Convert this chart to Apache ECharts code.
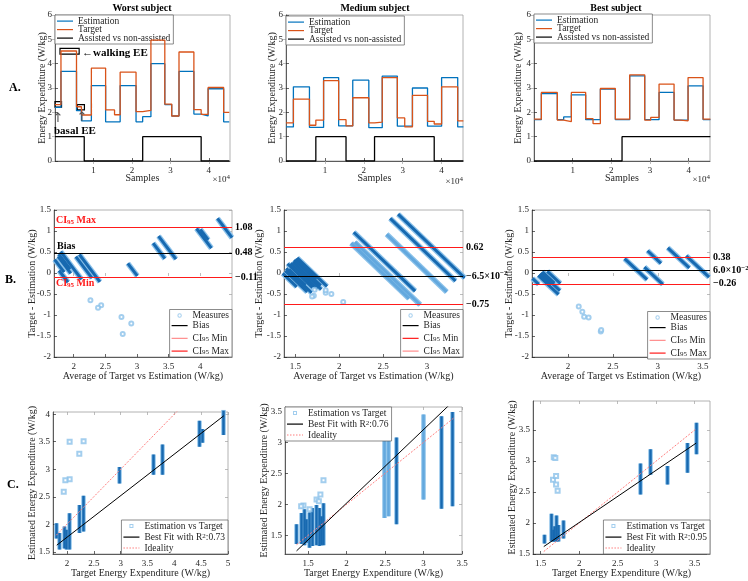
<!DOCTYPE html>
<html>
<head>
<meta charset="utf-8">
<script src="https://cdn.jsdelivr.net/npm/echarts@6/dist/echarts.min.js"></script>
<style>
html, body { margin: 0; background: #fff; }
#main { width: 748px; height: 581px; }
</style>
</head>
<body>
<div id="main"></div>
<script>
// ---------- row A: energy expenditure over samples (step levels per segment) ----------
var worstEdges  = [0, 1550, 5590, 6880, 9460, 13160, 15480, 16940, 21070, 22790, 24940, 28550, 30350, 32240, 36110, 38000, 39810, 43850, 45310];
var worstTarget = [2.32, 4.52, 2.23, 1.89, 3.82, 2.10, 1.90, 3.65, 2.03, 2.08, 4.97, 2.34, 1.85, 4.48, 2.11, 1.92, 3.02, 2.00];
var worstEstim  = [2.20, 3.68, 2.07, 1.65, 3.10, 1.61, 1.61, 3.10, 1.61, 1.82, 4.00, 2.32, 1.85, 3.68, 1.93, 1.85, 2.97, 1.61];
var worstAssistEdges = [0, 7600, 22800, 38000, 45310];
var worstAssist      = [1, 0, 1, 0];

var mediumEdges  = [0, 1900, 6030, 7670, 9660, 13530, 15430, 17160, 21290, 22760, 24740, 28620, 30520, 32500, 36380, 38100, 40000, 44140, 45600];
var mediumTarget = [1.57, 2.54, 1.47, 1.68, 3.30, 1.70, 1.44, 2.60, 1.57, 1.60, 3.43, 1.77, 1.40, 2.70, 1.63, 1.52, 3.05, 1.65];
var mediumEstim  = [1.40, 3.05, 1.38, 1.38, 3.43, 1.44, 1.44, 3.32, 1.37, 1.37, 3.49, 1.43, 1.43, 3.00, 1.43, 1.43, 3.43, 1.40];
var mediumAssistEdges = [0, 7670, 15430, 22760, 38100, 45600];
var mediumAssist      = [0, 1, 0, 1, 0];

var bestEdges  = [0, 1900, 6030, 7670, 9660, 13360, 15260, 17160, 21030, 24740, 28620, 30170, 32330, 36210, 37930, 39830, 43710, 45600];
var bestTarget = [1.72, 2.82, 1.68, 1.62, 2.82, 1.74, 1.54, 2.98, 1.72, 3.54, 1.68, 1.79, 3.16, 1.68, 1.65, 3.43, 1.72];
var bestEstim  = [1.70, 2.77, 1.70, 1.81, 2.72, 1.70, 1.70, 2.95, 1.70, 3.50, 1.70, 1.70, 2.82, 1.68, 1.68, 3.09, 1.70];
var bestAssistEdges = [0, 22760, 45600];
var bestAssist      = [0, 1];

// ---------- rows B/C: per target level, range of estimations [target, estMin, estMax] ----------
var worstBars = [[1.80, 1.74, 2.02], [1.86, 1.54, 1.84], [1.95, 1.56, 1.96], [1.99, 1.54, 1.90], [2.05, 1.54, 2.20],
                 [2.23, 1.84, 2.35], [2.31, 1.87, 2.52], [2.97, 2.74, 3.04], [3.61, 2.90, 3.27], [3.78, 2.90, 3.45],
                 [4.47, 3.41, 3.88], [4.52, 3.48, 3.73], [4.92, 3.62, 4.08]];
var worstSparseBars = [];
var worstOutliers = [[2.05, 3.50], [2.31, 3.51], [2.23, 3.28], [2.05, 2.82], [1.97, 2.80], [1.94, 2.59]];

var mediumBars = [[1.35, 1.36, 1.68], [1.41, 1.36, 1.86], [1.45, 1.34, 1.92], [1.47, 1.38, 1.76], [1.52, 1.30, 1.87],
                  [1.56, 1.33, 1.94], [1.60, 1.34, 1.99], [1.64, 1.33, 1.94], [1.67, 1.34, 1.81], [1.70, 1.34, 2.02],
                  [2.65, 1.68, 3.08], [3.23, 1.93, 3.42], [3.37, 1.97, 3.49]];
var mediumSparseBars = [[2.49, 1.78, 3.10], [2.545, 1.81, 3.30], [3.00, 2.08, 3.45]];
var mediumOutliers = [[1.66, 2.16], [1.70, 2.39], [1.44, 1.98], [1.52, 1.92], [1.61, 2.08], [1.41, 1.97], [1.64, 2.05]];

var bestBars = [[1.54, 1.67, 1.81], [1.64, 1.70, 2.15], [1.66, 1.70, 1.89], [1.68, 1.70, 1.95], [1.70, 1.70, 2.12],
                [1.73, 1.70, 1.97], [1.79, 1.75, 2.04], [2.80, 2.46, 2.96], [2.92, 2.78, 3.19], [3.15, 2.62, 2.92],
                [3.41, 2.81, 3.29], [3.52, 3.11, 3.62]];
var bestSparseBars = [];
var bestOutliers = [[1.67, 3.06], [1.69, 3.05], [1.66, 2.70], [1.70, 2.76], [1.70, 2.62], [1.72, 2.52]];

// Bland-Altman statistics
var biasValues  = [0.48, -0.065, 0.06];
var ciMaxValues = [1.08, 0.62, 0.38];
var ciMinValues = [-0.11, -0.75, -0.26];
var biasLabels  = ['0.48', '\u22126.5\u00d710{sup|\u22122}', '6.0\u00d710{sup|\u22122}'];
var ciMaxLabels = ['1.08', '0.62', '0.38'];
var ciMinLabels = ['\u22120.11', '\u22120.75', '\u22120.26'];

// regression / ideality lines (end points) and R^2
var worstFit  = [[1.81, 1.62], [4.92, 3.97]];
var mediumFit = [[1.35, 1.25], [3.40, 3.68]];
var bestFit   = [[1.54, 1.62], [3.52, 3.29]];
var worstIdeal  = [[1.80, 1.80], [4.92, 4.92]];
var mediumIdeal = [[1.35, 1.35], [3.40, 3.40]];
var bestIdeal   = [[1.54, 1.54], [3.52, 3.52]];
var rSquared = ['0.73', '0.76', '0.95'];

var subjectTitles = ['Worst subject', 'Medium subject', 'Best subject'];

// ---------- layout ----------
var FONT = 'Liberation Serif';
var INK = '#262626';
var BLUE = '#0072BD', ORANGE = '#D95319';
var DARK = '#1769b0', HALO = '#8cc2ea', PALE = '#63a8de', RED = '#ff1a1a', PINK = '#ff8c8c';

// [left, top, width, height] of each axes box: A1..A3, B1..B3, C1..C3
var boxes = [
  [55, 15, 175, 146], [286, 15, 177, 146], [534, 15, 176, 146],
  [54, 210, 178, 147], [284, 210, 179, 147], [532, 210, 178, 147],
  [53, 412, 175, 142], [285, 407, 177, 147], [533, 401, 177, 153]
];
var xRanges = [[0, 45500], [0, 45500], [0, 45500], [1.69, 4.5], [1.37, 3.41], [1.6, 3.58], [1.74, 5], [1.2, 3.5], [1.4, 3.7]];
var yRanges = [[0, 6], [0, 6], [0, 6], [-2, 1.5], [-2, 1.5], [-2, 1.5], [1.46, 4.04], [1.2, 3.57], [1.5, 3.97]];
var sampleTicks = [10000, 20000, 30000, 40000];
var xTicks = [sampleTicks, sampleTicks, sampleTicks,
  [2, 2.5, 3, 3.5, 4], [1.5, 2, 2.5, 3], [2, 2.5, 3, 3.5],
  [2, 2.5, 3, 3.5, 4, 4.5, 5], [1.5, 2, 2.5, 3, 3.5], [1.5, 2, 2.5, 3, 3.5]];
var yTicks = [[0, 1, 2, 3, 4, 5, 6], [0, 1, 2, 3, 4, 5, 6], [0, 1, 2, 3, 4, 5, 6],
  [-2, -1.5, -1, -0.5, 0, 0.5, 1, 1.5], [-2, -1.5, -1, -0.5, 0, 0.5, 1, 1.5], [-2, -1.5, -1, -0.5, 0, 0.5, 1, 1.5],
  [1.5, 2, 2.5, 3, 3.5, 4], [1.5, 2, 2.5, 3, 3.5], [1.5, 2, 2.5, 3, 3.5]];
var xNames = ['Samples', 'Average of Target vs Estimation (W/kg)', 'Target Energy Expenditure (W/kg)'];
var yNames = ['Energy Expenditure (W/kg)', 'Target - Estimation (W/kg)', 'Estimated Energy Expenditure (W/kg)'];
var xNameGaps = [12, 14, 14];
var yNameGaps = [8, 9, 11, 17, 20, 18, 16, 16, 16];

var labelText = { fontFamily: FONT, fontSize: 9, color: INK };
var tickLine = { color: INK, width: 0.7 };

var grids = [], xAxes = [], yAxes = [];
boxes.forEach(function (b, g) {
  grids.push({ left: b[0], top: b[1], width: b[2], height: b[3], show: true,
    borderColor: '#a0a0a0', borderWidth: 0.8, outerBoundsMode: 'none' });
  var row = Math.floor(g / 3);
  xAxes.push({
    gridIndex: g, type: 'value', position: 'bottom', min: xRanges[g][0], max: xRanges[g][1],
    axisLine: { show: true, onZero: false, lineStyle: tickLine },
    axisTick: { show: true, inside: true, length: 3, customValues: xTicks[g], lineStyle: tickLine },
    axisLabel: Object.assign({ customValues: xTicks[g], margin: 5,
      formatter: row === 0 ? function (v) { return String(v / 10000); } : null }, labelText),
    splitLine: { show: false },
    name: xNames[row], nameLocation: 'middle', nameGap: xNameGaps[row], nameMoveOverlap: false,
    nameTextStyle: { fontFamily: FONT, fontSize: 10, color: INK }
  });
  yAxes.push({
    gridIndex: g, type: 'value', position: 'left', min: yRanges[g][0], max: yRanges[g][1],
    axisLine: { show: true, onZero: false, lineStyle: tickLine },
    axisTick: { show: true, inside: true, length: 3, customValues: yTicks[g], lineStyle: tickLine },
    axisLabel: Object.assign({ customValues: yTicks[g], margin: 3 }, labelText),
    splitLine: { show: false },
    name: yNames[row], nameLocation: 'middle', nameGap: yNameGaps[g], nameMoveOverlap: false,
    nameTextStyle: { fontFamily: FONT, fontSize: 10, color: INK }
  });
});
// mirrored ticks on the top / right edges (MATLAB box)
boxes.forEach(function (b, g) {
  xAxes.push({ gridIndex: g, type: 'value', position: 'top', min: xRanges[g][0], max: xRanges[g][1],
    axisLine: { show: false }, axisLabel: { show: false, customValues: xTicks[g] }, splitLine: { show: false },
    axisTick: { show: true, inside: true, length: 3, customValues: xTicks[g], lineStyle: { color: '#a0a0a0', width: 0.7 } } });
  yAxes.push({ gridIndex: g, type: 'value', position: 'right', min: yRanges[g][0], max: yRanges[g][1],
    axisLine: { show: false }, axisLabel: { show: false, customValues: yTicks[g] }, splitLine: { show: false },
    axisTick: { show: true, inside: true, length: 3, customValues: yTicks[g], lineStyle: { color: '#a0a0a0', width: 0.7 } } });
});

function steps(edges, levels) {
  var pts = [];
  for (var i = 0; i < levels.length; i++) {
    pts.push([edges[i], levels[i]], [edges[i + 1], levels[i]]);
  }
  return pts;
}
function vbars(bars) {
  return bars.map(function (b) { return { coords: [[b[0], b[1]], [b[0], b[2]]] }; });
}
// Bland-Altman streak: average vs difference for each estimation at a fixed target
function baStreaks(bars) {
  return bars.map(function (b) {
    return { coords: [[(b[0] + b[1]) / 2, b[0] - b[1]], [(b[0] + b[2]) / 2, b[0] - b[2]]] };
  });
}
function baPoints(pts) {
  return pts.map(function (p) { return [(p[0] + p[1]) / 2, p[0] - p[1]]; });
}

var subjects = [
  { edges: worstEdges, target: worstTarget, estim: worstEstim, aEdges: worstAssistEdges, assist: worstAssist,
    bars: worstBars, sparse: worstSparseBars, outliers: worstOutliers, fit: worstFit, ideal: worstIdeal },
  { edges: mediumEdges, target: mediumTarget, estim: mediumEstim, aEdges: mediumAssistEdges, assist: mediumAssist,
    bars: mediumBars, sparse: mediumSparseBars, outliers: mediumOutliers, fit: mediumFit, ideal: mediumIdeal },
  { edges: bestEdges, target: bestTarget, estim: bestEstim, aEdges: bestAssistEdges, assist: bestAssist,
    bars: bestBars, sparse: bestSparseBars, outliers: bestOutliers, fit: bestFit, ideal: bestIdeal }
];

var displayNames = {};
var series = [];
var legends = [];
var legendText = {
  fontFamily: FONT, fontSize: 9.5, color: INK, lineHeight: 8.5,
  rich: {
    sub: { fontFamily: FONT, fontSize: 7, lineHeight: 8.5, verticalAlign: 'bottom', padding: [5, 0, 0, 0] },
    sup: { fontFamily: FONT, fontSize: 7, lineHeight: 8.5, verticalAlign: 'top' }
  }
};
// legend icons drawn inside a 16x7 box: small hollow markers, plain and dotted line segments
var squareIcon = 'path://M0,0M16,7M6,1.5L10,1.5L10,5.5L6,5.5ZM7,2.5L7,4.5L9,4.5L9,2.5Z';
var circleIcon = 'path://M0,0M16,7M8,1.3A2.2,2.2,0,1,1,7.99,1.3ZM8,2.3A1.2,1.2,0,1,0,8.01,2.3Z';
var lineIcon = 'path://M0,0M16,7M0,3L16,3L16,4.2L0,4.2Z';
var dotIcon = 'path://M0,0M16,7M0,3h1.5v1h-1.5zM3,3h1.5v1h-1.5zM6,3h1.5v1h-1.5zM9,3h1.5v1h-1.5zM12,3h1.5v1h-1.5zM15,3h1v1h-1z';
function legendBox(pos, items, gap) {
  return Object.assign({
    orient: 'vertical', itemWidth: 16, itemHeight: 7, itemGap: gap, padding: [1, 3, 1, 2],
    backgroundColor: '#fff', borderColor: '#5a5a5a', borderWidth: 0.7, borderRadius: 0,
    selectedMode: false, textStyle: legendText,
    formatter: function (n) { return displayNames[n]; }, data: items
  }, pos);
}
function lineItem(name, color) {
  return { name: name, icon: lineIcon, itemStyle: { color: color, borderWidth: 0 } };
}
var markLabel = {
  show: true, position: 'end', distance: 3, color: '#000', fontFamily: FONT, fontSize: 10, fontWeight: 'bold',
  rich: { sup: { fontFamily: FONT, fontSize: 7, fontWeight: 'bold', color: '#000', verticalAlign: 'top', lineHeight: 12 } },
  lineHeight: 12
};
function hline(name, g, value, color, label) {
  return {
    name: name, type: 'line', xAxisIndex: g, yAxisIndex: g, data: [], color: color,
    lineStyle: { color: color, width: 1 }, symbol: 'none', silent: true,
    markLine: { silent: true, symbol: ['none', 'none'], animation: false,
      lineStyle: { color: color, width: 1, type: 'solid' },
      label: Object.assign({ formatter: label }, markLabel),
      data: [{ yAxis: value }] }
  };
}

var legendPos = [
  { left: 55, top: 15 }, { left: 286, top: 16 }, { left: 534, top: 14 },
  { right: 516, bottom: 224 }, { right: 285, bottom: 224 }, { right: 38, bottom: 222 },
  { right: 520, bottom: 27 }, { left: 285, top: 407 }, { right: 38, bottom: 27 }
];
var ciMinLegend = [PINK, RED, PINK];
var ciMaxLegend = [RED, PINK, RED];

subjects.forEach(function (s, p) {
  // --- A: time series
  var g = p;
  var estName = 'est' + g, tgtName = 'tgt' + g, asName = 'as' + g;
  displayNames[estName] = 'Estimation';
  displayNames[tgtName] = 'Target';
  displayNames[asName] = 'Assisted vs non-assisted';
  series.push({ name: estName, type: 'line', xAxisIndex: g, yAxisIndex: g, data: steps(s.edges, s.estim),
    symbol: 'none', color: BLUE, lineStyle: { width: 1.3 }, z: 3 });
  var tgt = { name: tgtName, type: 'line', xAxisIndex: g, yAxisIndex: g, data: steps(s.edges, s.target),
    symbol: 'none', color: ORANGE, lineStyle: { width: 1.3 }, z: 4 };
  if (p === 0) {
    tgt.markArea = { silent: true, itemStyle: { color: 'rgba(0,0,0,0)', borderColor: '#000', borderWidth: 1.2 },
      data: [
        [{ coord: [1300, 4.39] }, { coord: [6280, 4.63] }],
        [{ coord: [-100, 2.21] }, { coord: [1700, 2.44] }],
        [{ coord: [5780, 2.10] }, { coord: [7650, 2.32] }]
      ] };
  }
  series.push(tgt);
  series.push({ name: asName, type: 'line', xAxisIndex: g, yAxisIndex: g, data: steps(s.aEdges, s.assist),
    symbol: 'none', color: '#000', lineStyle: { width: 1.3 }, z: 5 });
  legends.push(legendBox(legendPos[g], [lineItem(estName, BLUE), lineItem(tgtName, ORANGE), lineItem(asName, '#000')], -1.5));

  // --- B: Bland-Altman
  g = 3 + p;
  var allBars = s.bars.concat(s.sparse);
  series.push({ type: 'lines', coordinateSystem: 'cartesian2d', xAxisIndex: g, yAxisIndex: g, silent: true, clip: true,
    data: baStreaks(allBars), lineStyle: { color: HALO, width: 5.5, opacity: 1 }, z: 2 });
  series.push({ type: 'lines', coordinateSystem: 'cartesian2d', xAxisIndex: g, yAxisIndex: g, silent: true, clip: true,
    data: baStreaks(s.sparse), lineStyle: { color: PALE, width: 3, opacity: 1 }, z: 3 });
  series.push({ type: 'lines', coordinateSystem: 'cartesian2d', xAxisIndex: g, yAxisIndex: g, silent: true, clip: true,
    data: baStreaks(s.bars), lineStyle: { color: DARK, width: 3, opacity: 1 }, z: 3 });
  var measName = 'meas' + g, biasName = 'bias' + g, minName = 'cimin' + g, maxName = 'cimax' + g;
  displayNames[measName] = 'Measures';
  displayNames[biasName] = 'Bias';
  displayNames[minName] = 'CI{sub|95} Min';
  displayNames[maxName] = 'CI{sub|95} Max';
  series.push({ name: measName, type: 'scatter', xAxisIndex: g, yAxisIndex: g, data: baPoints(s.outliers),
    symbol: 'emptyCircle', symbolSize: 4, color: HALO, itemStyle: { borderWidth: 0.8 }, z: 3 });
  series.push(hline(biasName, g, biasValues[p], '#000', biasLabels[p]));
  series.push(hline(minName, g, ciMinValues[p], RED, ciMinLabels[p]));
  series.push(hline(maxName, g, ciMaxValues[p], RED, ciMaxLabels[p]));
  legends.push(legendBox(legendPos[g], [
    { name: measName, icon: circleIcon, itemStyle: { color: HALO, borderWidth: 0 } },
    lineItem(biasName, '#000'),
    lineItem(minName, ciMinLegend[p]),
    lineItem(maxName, ciMaxLegend[p])
  ], 0));

  // --- C: estimation vs target
  g = 6 + p;
  series.push({ type: 'lines', coordinateSystem: 'cartesian2d', xAxisIndex: g, yAxisIndex: g, silent: true, clip: true,
    data: vbars(allBars), lineStyle: { color: HALO, width: 4.5, opacity: 1 }, z: 2 });
  series.push({ type: 'lines', coordinateSystem: 'cartesian2d', xAxisIndex: g, yAxisIndex: g, silent: true, clip: true,
    data: vbars(s.sparse), lineStyle: { color: PALE, width: 2.5, opacity: 1 }, z: 3 });
  series.push({ type: 'lines', coordinateSystem: 'cartesian2d', xAxisIndex: g, yAxisIndex: g, silent: true, clip: true,
    data: vbars(s.bars), lineStyle: { color: DARK, width: 2.5, opacity: 1 }, z: 3 });
  var evtName = 'evt' + g, fitName = 'fit' + g, idName = 'ideal' + g;
  displayNames[evtName] = 'Estimation vs Target';
  displayNames[fitName] = 'Best Fit with R{sup|2}:' + rSquared[p];
  displayNames[idName] = 'Ideality';
  series.push({ name: evtName, type: 'scatter', xAxisIndex: g, yAxisIndex: g, data: s.outliers,
    symbol: 'emptyRect', symbolSize: 4, color: HALO, itemStyle: { borderWidth: 0.8 }, z: 3 });
  series.push({ name: fitName, type: 'line', xAxisIndex: g, yAxisIndex: g, data: s.fit, symbol: 'none', clip: true,
    color: '#000', lineStyle: { width: 1 }, z: 5 });
  series.push({ name: idName, type: 'line', xAxisIndex: g, yAxisIndex: g, data: s.ideal, symbol: 'none', clip: true,
    color: '#ff7f7f', lineStyle: { width: 1, type: [2, 1.5] }, z: 4 });
  legends.push(legendBox(legendPos[g], [
    { name: evtName, icon: squareIcon, itemStyle: { color: HALO, borderWidth: 0 } },
    lineItem(fitName, '#000'),
    { name: idName, icon: dotIcon, itemStyle: { color: '#ff7f7f', borderWidth: 0 } }
  ], 1));
});

// ---------- texts ----------
var titleX = [142, 375, 616];
var graphics = [];
function txt(x, y, text, font, fill, align, rich) {
  graphics.push({ type: 'text', x: x, y: y, silent: true, z: 100,
    style: { text: text, font: font, fill: fill || '#000', align: align || 'left', verticalAlign: 'middle', rich: rich } });
}
var boldFont = 'bold 10px "Liberation Serif"';
subjectTitles.forEach(function (t, p) { txt(titleX[p], 8, t, boldFont, '#000', 'center'); });
var sup = { sup: { font: '7px "Liberation Serif"', verticalAlign: 'top', lineHeight: 12 } };
[[230, 180], [463, 182], [710, 180]].forEach(function (q) {
  txt(q[0], q[1], '\u00d710{sup|4}', '9px "Liberation Serif"', INK, 'right', sup);
});
txt(9, 88, 'A.', 'bold 12px "Liberation Serif"');
txt(5, 280, 'B.', 'bold 12px "Liberation Serif"');
txt(7, 485, 'C.', 'bold 12px "Liberation Serif"');
// annotations on the worst subject
txt(82, 53, '\u2190walking EE', 'bold 11px "Liberation Serif"');
txt(54, 131, 'basal EE', 'bold 11px "Liberation Serif"');
txt(58, 119, '\u2191', '13px "DejaVu Sans"', '#555', 'center');
txt(82, 118, '\u2191', '13px "DejaVu Sans"', '#555', 'center');
var subR = { sub: { font: 'bold 7px "Liberation Serif"', fill: '#ff1a1a', verticalAlign: 'bottom', padding: [5, 0, 0, 0], lineHeight: 12 } };
txt(56, 220, 'CI{sub|95} Max', boldFont, '#ff1a1a', 'left', subR);
txt(57, 246, 'Bias', boldFont, '#000');
txt(56, 283, 'CI{sub|95} Min', boldFont, '#ff1a1a', 'left', subR);

var chart = echarts.init(document.getElementById('main'));
chart.setOption({
  animation: false,
  backgroundColor: '#fff',
  grid: grids,
  xAxis: xAxes,
  yAxis: yAxes,
  legend: legends,
  series: series,
  graphic: graphics
});
</script>
</body>
</html>
